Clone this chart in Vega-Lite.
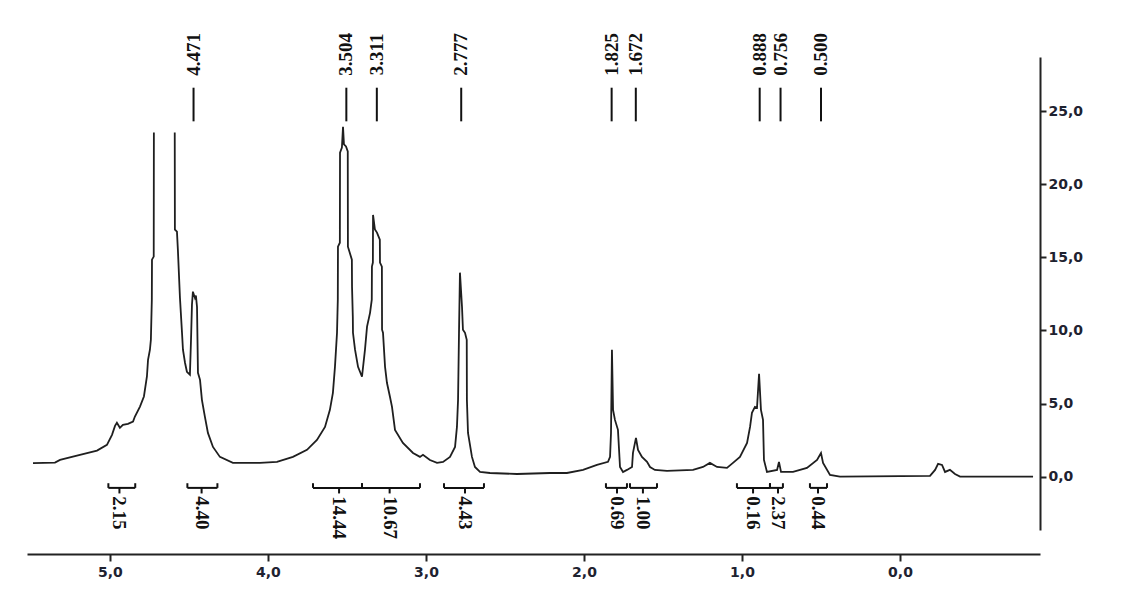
{
  "$schema": "https://vega.github.io/schema/vega-lite/v6.json",
  "width": 1013,
  "height": 473,
  "autosize": "none",
  "padding": {"left": 27, "top": 57, "right": 89, "bottom": 74},
  "background": "white",
  "config": {
    "view": {"stroke": null},
    "axis": {"grid": false, "title": null, "labelFont": "DejaVu Sans", "labelFontWeight": "bold", "labelFontSize": 14, "labelColor": "#1e2230", "domainColor": "#222", "tickColor": "#222", "domainWidth": 2, "tickWidth": 2}
  },
  "datasets": {
    "spectrum": [
      {"ppm": 5.487, "val": 0.92}, {"ppm": 5.348, "val": 0.96}, {"ppm": 5.316, "val": 1.14}, {"ppm": 5.19, "val": 1.49},
      {"ppm": 5.082, "val": 1.78}, {"ppm": 5.019, "val": 2.17}, {"ppm": 4.987, "val": 2.86}, {"ppm": 4.968, "val": 3.47},
      {"ppm": 4.956, "val": 3.68}, {"ppm": 4.937, "val": 3.34}, {"ppm": 4.918, "val": 3.54}, {"ppm": 4.886, "val": 3.61},
      {"ppm": 4.854, "val": 3.77}, {"ppm": 4.842, "val": 4.11}, {"ppm": 4.81, "val": 4.79}, {"ppm": 4.785, "val": 5.48},
      {"ppm": 4.766, "val": 6.85}, {"ppm": 4.759, "val": 7.99}, {"ppm": 4.747, "val": 8.68}, {"ppm": 4.741, "val": 9.36},
      {"ppm": 4.735, "val": 12.1}, {"ppm": 4.734, "val": 14.84}, {"ppm": 4.723, "val": 15.05}, {"ppm": 4.722, "val": 23.54},
      {"ppm": 4.65, "val": null},
      {"ppm": 4.59, "val": 23.54}, {"ppm": 4.589, "val": 16.9}, {"ppm": 4.576, "val": 16.75}, {"ppm": 4.57, "val": 15.5},
      {"ppm": 4.557, "val": 12.24}, {"ppm": 4.544, "val": 9.84}, {"ppm": 4.538, "val": 8.68}, {"ppm": 4.525, "val": 7.79},
      {"ppm": 4.513, "val": 7.17}, {"ppm": 4.494, "val": 6.97}, {"ppm": 4.487, "val": 9.36}, {"ppm": 4.481, "val": 11.76},
      {"ppm": 4.475, "val": 12.65}, {"ppm": 4.462, "val": 12.22}, {"ppm": 4.456, "val": 12.38}, {"ppm": 4.449, "val": 11.6},
      {"ppm": 4.443, "val": 7.1}, {"ppm": 4.43, "val": 6.62}, {"ppm": 4.418, "val": 5.25}, {"ppm": 4.399, "val": 4.09},
      {"ppm": 4.38, "val": 2.99}, {"ppm": 4.348, "val": 2.03}, {"ppm": 4.304, "val": 1.35}, {"ppm": 4.222, "val": 0.94},
      {"ppm": 4.051, "val": 0.94}, {"ppm": 3.943, "val": 1.01}, {"ppm": 3.842, "val": 1.35}, {"ppm": 3.753, "val": 1.83},
      {"ppm": 3.69, "val": 2.51}, {"ppm": 3.639, "val": 3.4}, {"ppm": 3.608, "val": 4.57}, {"ppm": 3.589, "val": 5.73},
      {"ppm": 3.576, "val": 7.51}, {"ppm": 3.563, "val": 9.84}, {"ppm": 3.558, "val": 12.1}, {"ppm": 3.557, "val": 15.73},
      {"ppm": 3.545, "val": 16.0}, {"ppm": 3.544, "val": 22.16}, {"ppm": 3.532, "val": 22.51}, {"ppm": 3.525, "val": 23.92},
      {"ppm": 3.519, "val": 22.72}, {"ppm": 3.506, "val": 22.58}, {"ppm": 3.495, "val": 22.24}, {"ppm": 3.494, "val": 15.73},
      {"ppm": 3.469, "val": 14.84}, {"ppm": 3.468, "val": 12.99}, {"ppm": 3.463, "val": 10.93}, {"ppm": 3.462, "val": 9.84},
      {"ppm": 3.449, "val": 8.68}, {"ppm": 3.43, "val": 7.51}, {"ppm": 3.405, "val": 6.83}, {"ppm": 3.386, "val": 8.68},
      {"ppm": 3.373, "val": 10.26}, {"ppm": 3.354, "val": 11.2}, {"ppm": 3.343, "val": 12.1}, {"ppm": 3.342, "val": 14.36},
      {"ppm": 3.336, "val": 14.64}, {"ppm": 3.335, "val": 17.9}, {"ppm": 3.323, "val": 16.9}, {"ppm": 3.31, "val": 16.69},
      {"ppm": 3.292, "val": 16.21}, {"ppm": 3.291, "val": 14.64}, {"ppm": 3.279, "val": 14.36}, {"ppm": 3.278, "val": 10.05},
      {"ppm": 3.272, "val": 9.84}, {"ppm": 3.259, "val": 7.51}, {"ppm": 3.247, "val": 6.42}, {"ppm": 3.228, "val": 5.46},
      {"ppm": 3.215, "val": 4.77}, {"ppm": 3.196, "val": 3.2}, {"ppm": 3.146, "val": 2.31}, {"ppm": 3.082, "val": 1.62},
      {"ppm": 3.038, "val": 1.35}, {"ppm": 3.019, "val": 1.49}, {"ppm": 2.975, "val": 1.14}, {"ppm": 2.93, "val": 0.94},
      {"ppm": 2.892, "val": 1.01}, {"ppm": 2.848, "val": 1.35}, {"ppm": 2.816, "val": 2.03}, {"ppm": 2.804, "val": 3.4},
      {"ppm": 2.797, "val": 5.25}, {"ppm": 2.791, "val": 9.84}, {"ppm": 2.785, "val": 13.95}, {"ppm": 2.772, "val": 11.62},
      {"ppm": 2.766, "val": 10.05}, {"ppm": 2.753, "val": 9.84}, {"ppm": 2.742, "val": 9.36}, {"ppm": 2.741, "val": 5.25},
      {"ppm": 2.734, "val": 2.99}, {"ppm": 2.709, "val": 1.35}, {"ppm": 2.69, "val": 0.66}, {"ppm": 2.658, "val": 0.32},
      {"ppm": 2.595, "val": 0.25}, {"ppm": 2.424, "val": 0.18}, {"ppm": 2.215, "val": 0.25}, {"ppm": 2.108, "val": 0.25},
      {"ppm": 2.006, "val": 0.46}, {"ppm": 1.918, "val": 0.8}, {"ppm": 1.848, "val": 1.01}, {"ppm": 1.835, "val": 1.35},
      {"ppm": 1.829, "val": 2.99}, {"ppm": 1.823, "val": 8.68}, {"ppm": 1.816, "val": 4.57}, {"ppm": 1.804, "val": 3.88},
      {"ppm": 1.785, "val": 3.2}, {"ppm": 1.772, "val": 0.66}, {"ppm": 1.753, "val": 0.32}, {"ppm": 1.728, "val": 0.46},
      {"ppm": 1.696, "val": 0.66}, {"ppm": 1.69, "val": 1.62}, {"ppm": 1.671, "val": 2.65}, {"ppm": 1.658, "val": 1.83},
      {"ppm": 1.633, "val": 1.35}, {"ppm": 1.601, "val": 1.01}, {"ppm": 1.582, "val": 0.66}, {"ppm": 1.551, "val": 0.46},
      {"ppm": 1.475, "val": 0.39}, {"ppm": 1.31, "val": 0.46}, {"ppm": 1.247, "val": 0.66}, {"ppm": 1.203, "val": 0.94},
      {"ppm": 1.158, "val": 0.66}, {"ppm": 1.095, "val": 0.6}, {"ppm": 1.057, "val": 0.94}, {"ppm": 1.013, "val": 1.35},
      {"ppm": 0.968, "val": 2.31}, {"ppm": 0.949, "val": 3.4}, {"ppm": 0.937, "val": 4.36}, {"ppm": 0.918, "val": 4.77},
      {"ppm": 0.905, "val": 4.71}, {"ppm": 0.892, "val": 7.03}, {"ppm": 0.88, "val": 4.57}, {"ppm": 0.867, "val": 3.88},
      {"ppm": 0.861, "val": 1.14}, {"ppm": 0.842, "val": 0.32}, {"ppm": 0.778, "val": 0.46}, {"ppm": 0.766, "val": 1.01},
      {"ppm": 0.753, "val": 0.32}, {"ppm": 0.677, "val": 0.32}, {"ppm": 0.589, "val": 0.6}, {"ppm": 0.525, "val": 1.14},
      {"ppm": 0.5, "val": 1.62}, {"ppm": 0.487, "val": 0.94}, {"ppm": 0.443, "val": 0.12}, {"ppm": 0.38, "val": 0.0},
      {"ppm": -0.19, "val": 0.05}, {"ppm": -0.222, "val": 0.46}, {"ppm": -0.241, "val": 0.87}, {"ppm": -0.266, "val": 0.8},
      {"ppm": -0.285, "val": 0.32}, {"ppm": -0.316, "val": 0.46}, {"ppm": -0.348, "val": 0.18}, {"ppm": -0.38, "val": 0.0},
      {"ppm": -0.842, "val": 0.0}
    ],
    "peaks": [
      {"ppm": 4.471, "label": "4.471"}, {"ppm": 3.504, "label": "3.504"}, {"ppm": 3.311, "label": "3.311"},
      {"ppm": 2.777, "label": "2.777"}, {"ppm": 1.825, "label": "1.825"}, {"ppm": 1.672, "label": "1.672"},
      {"ppm": 0.888, "label": "0.888"}, {"ppm": 0.756, "label": "0.756"}, {"ppm": 0.5, "label": "0.500"}
    ],
    "integrals": [
      {"from": 5.01, "to": 4.84, "center": 4.94, "label": "2.15"},
      {"from": 4.51, "to": 4.32, "center": 4.42, "label": "4.40"},
      {"from": 3.715, "to": 3.405, "center": 3.55, "label": "14.44"},
      {"from": 3.405, "to": 3.038, "center": 3.23, "label": "10.67"},
      {"from": 2.886, "to": 2.633, "center": 2.753, "label": "4.43"},
      {"from": 1.861, "to": 1.728, "center": 1.791, "label": "0.69"},
      {"from": 1.709, "to": 1.538, "center": 1.627, "label": "1.00"},
      {"from": 1.032, "to": 0.823, "center": 0.93, "label": "0.16"},
      {"from": 0.823, "to": 0.741, "center": 0.772, "label": "2.37"},
      {"from": 0.57, "to": 0.462, "center": 0.519, "label": "0.44"}
    ]
  },
  "layer": [
    {
      "data": {"name": "spectrum"},
      "mark": {"type": "line", "color": "#1f1f1f", "strokeWidth": 1.8, "invalid": "break-paths-filter-domains"},
      "encoding": {
        "x": {"field": "ppm", "type": "quantitative",
          "scale": {"domain": [-0.886, 5.525], "reverse": true, "nice": false, "zero": false},
          "axis": {"orient": "bottom", "offset": 24, "values": [0, 1, 2, 3, 4, 5], "tickSize": 7, "labelPadding": 4,
            "labelExpr": "replace(format(datum.value, '.1f'), '.', ',')"}},
        "y": {"field": "val", "type": "quantitative",
          "scale": {"domain": [-3.65, 28.7], "nice": false, "zero": false},
          "axis": {"orient": "right", "values": [0, 5, 10, 15, 20, 25], "tickSize": 6, "labelPadding": 2,
            "labelExpr": "replace(format(datum.value, '.1f'), '.', ',')"}}
      }
    },
    {
      "mark": {"type": "rule", "color": "#222", "strokeWidth": 2},
      "encoding": {"x": {"datum": -0.886}, "y": {"datum": -4.45}, "y2": {"datum": -5.3}}
    },
    {
      "data": {"name": "peaks"},
      "mark": {"type": "rule", "color": "#111", "strokeWidth": 2},
      "encoding": {"x": {"field": "ppm", "type": "quantitative"}, "y": {"datum": 24.3}, "y2": {"datum": 26.6}}
    },
    {
      "data": {"name": "peaks"},
      "mark": {"type": "text", "angle": 270, "align": "center", "baseline": "middle", "font": "Liberation Serif", "fontWeight": "bold", "fontSize": 19, "color": "#111"},
      "encoding": {"x": {"field": "ppm", "type": "quantitative"}, "y": {"datum": 28.88}, "text": {"field": "label"}}
    },
    {
      "data": {"name": "integrals"},
      "mark": {"type": "rule", "color": "#111", "strokeWidth": 2},
      "encoding": {"x": {"field": "from", "type": "quantitative"}, "x2": {"field": "to"}, "y": {"datum": -0.77}}
    },
    {
      "data": {"name": "integrals"},
      "mark": {"type": "rule", "color": "#111", "strokeWidth": 2},
      "encoding": {"x": {"field": "from", "type": "quantitative"}, "y": {"datum": -0.77}, "y2": {"datum": -0.45}}
    },
    {
      "data": {"name": "integrals"},
      "mark": {"type": "rule", "color": "#111", "strokeWidth": 2},
      "encoding": {"x": {"field": "to", "type": "quantitative"}, "y": {"datum": -0.77}, "y2": {"datum": -0.45}}
    },
    {
      "data": {"name": "integrals"},
      "mark": {"type": "rule", "color": "#111", "strokeWidth": 2},
      "encoding": {"x": {"field": "center", "type": "quantitative"}, "y": {"datum": -0.77}, "y2": {"datum": -1.15}}
    },
    {
      "data": {"name": "integrals"},
      "mark": {"type": "text", "angle": 90, "align": "left", "baseline": "middle", "font": "Liberation Serif", "fontWeight": "bold", "fontSize": 19, "color": "#111"},
      "encoding": {"x": {"field": "center", "type": "quantitative"}, "y": {"datum": -1.35}, "text": {"field": "label"}}
    }
  ]
}
